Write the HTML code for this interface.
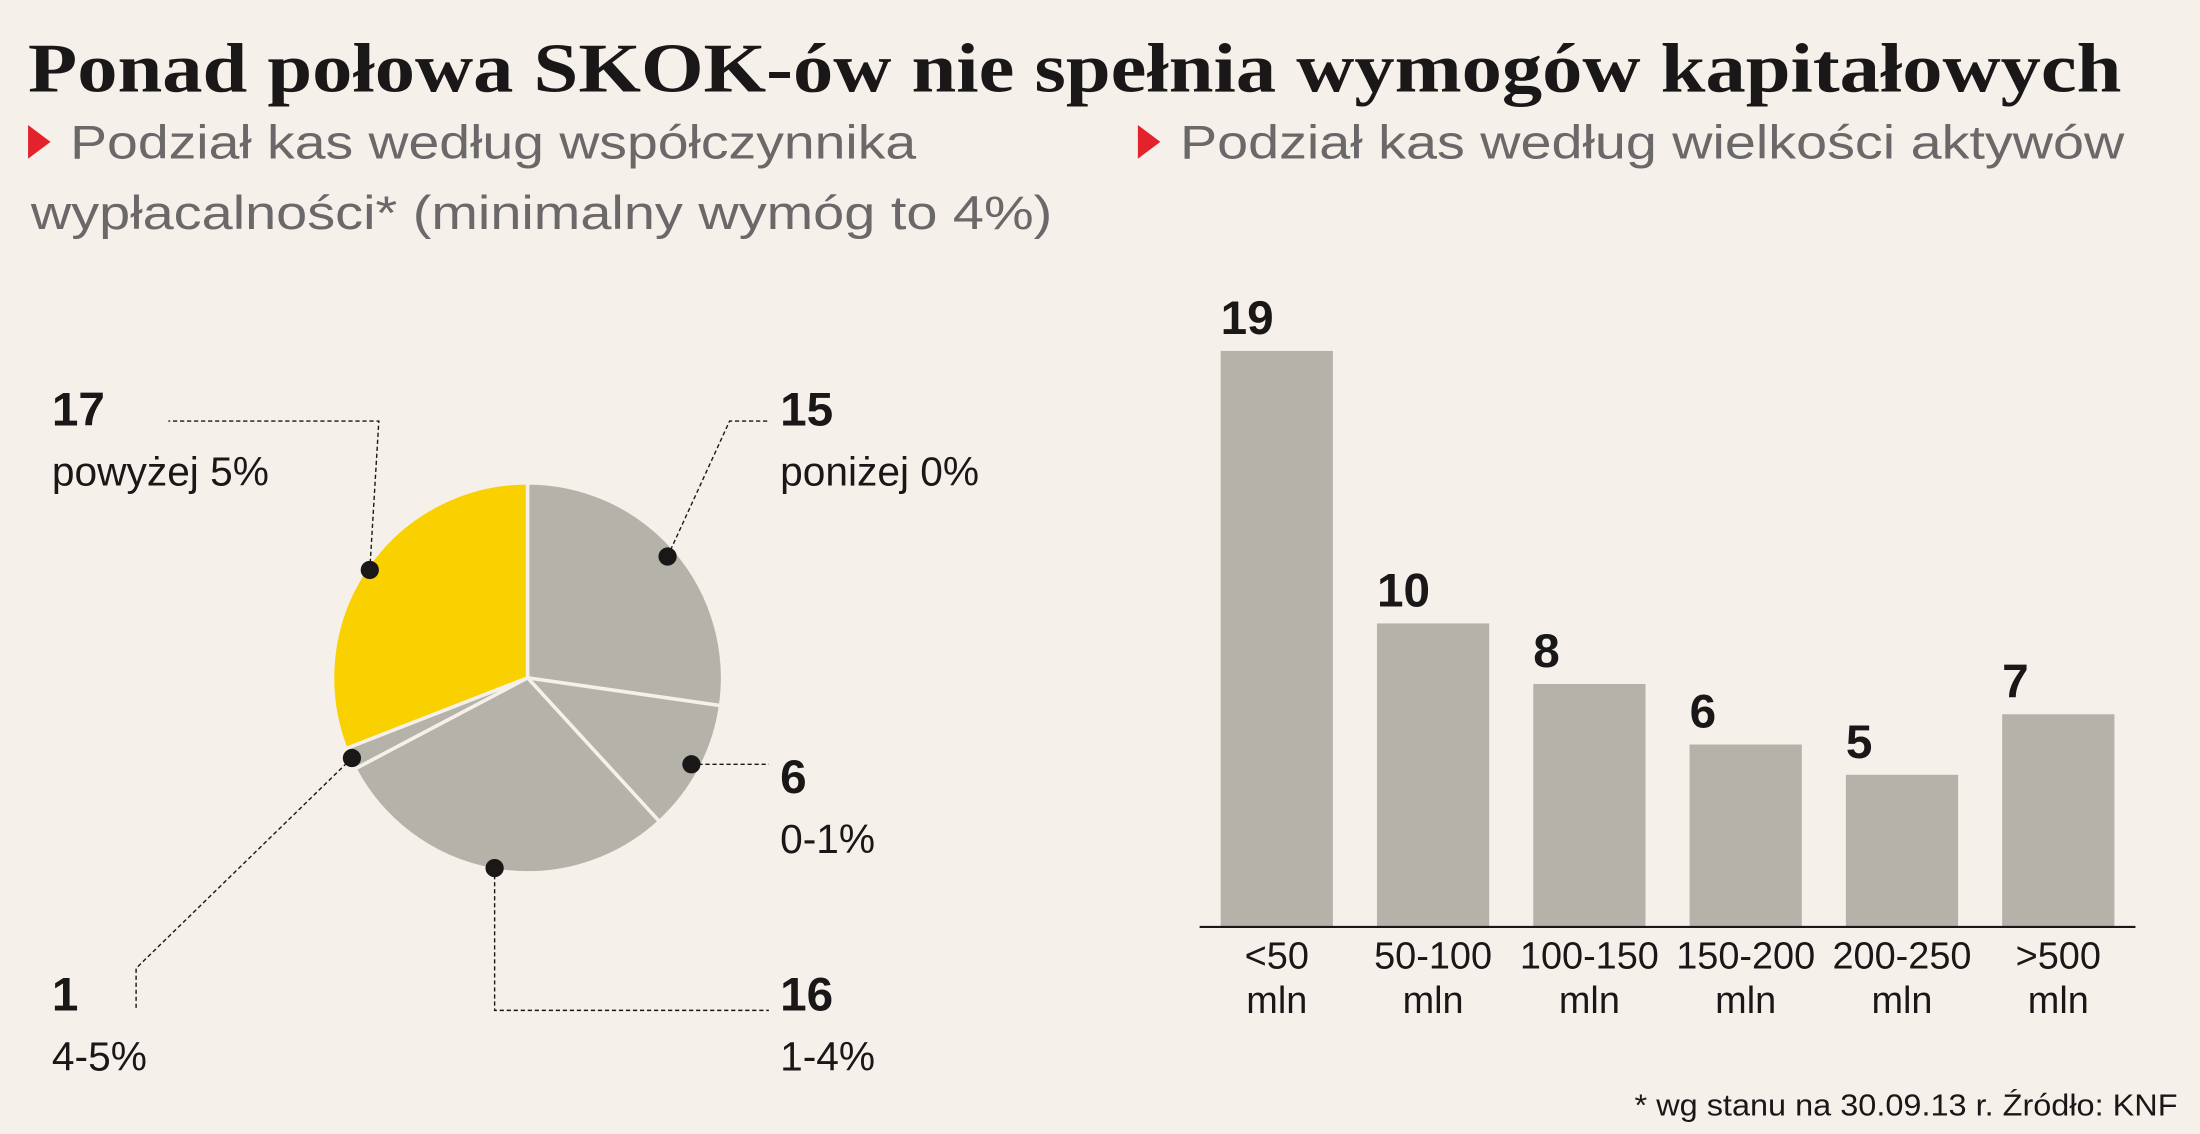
<!DOCTYPE html>
<html><head><meta charset="utf-8"><style>
html,body{margin:0;padding:0;background:#f5f1ea;}
svg{display:block;}
</style></head><body>
<svg id="chart" width="2200" height="1134" viewBox="0 0 1568 808" xmlns="http://www.w3.org/2000/svg">
<rect width="1568" height="808" fill="#f5f1ea"/>
<text x="20" y="65" font-family="Liberation Serif, serif" font-weight="bold" font-size="50" fill="#1a1718" textLength="1492" lengthAdjust="spacingAndGlyphs">Ponad połowa SKOK-ów nie spełnia wymogów kapitałowych</text>
<polygon points="20,89 36,101 20,113" fill="#e3222b"/>
<text x="50" y="113" font-family="Liberation Sans, sans-serif" font-size="34" fill="#6a6869" textLength="603" lengthAdjust="spacingAndGlyphs">Podział kas według współczynnika</text>
<text x="22" y="163" font-family="Liberation Sans, sans-serif" font-size="34" fill="#6a6869" textLength="728" lengthAdjust="spacingAndGlyphs">wypłacalności* (minimalny wymóg to 4%)</text>
<polygon points="811,89 827,101 811,113" fill="#e3222b"/>
<text x="841" y="113" font-family="Liberation Sans, sans-serif" font-size="34" fill="#6a6869" textLength="673" lengthAdjust="spacingAndGlyphs">Podział kas według wielkości aktywów</text>
<g id="pie"></g>
<g id="bars"></g>
<text x="1552" y="795" text-anchor="end" font-family="Liberation Sans, sans-serif" font-size="22" fill="#1a1718" textLength="387" lengthAdjust="spacingAndGlyphs">* wg stanu na 30.09.13 r. Źródło: KNF</text>
</svg>
<script>
const NS='http://www.w3.org/2000/svg';
// pie data (clockwise from top)
const pieLabels=['poniżej 0%','0-1%','1-4%','4-5%','powyżej 5%'];
const pieValues=[15,6,16,1,17];
const pieColors=['#b5b2aa','#b5b2aa','#b5b2aa','#b5b2aa','#f9d000'];
// bar data
const barCategories=['<50','50-100','100-150','150-200','200-250','>500'];
const barValues=[19,10,8,6,5,7];

function mk(tag,attrs,parent){const e=document.createElementNS(NS,tag);for(const k in attrs)e.setAttribute(k,attrs[k]);parent.appendChild(e);return e;}

// ---- pie ----
const pie=document.getElementById('pie');
const cx=376,cy=483,r=139;
const total=pieValues.reduce((a,b)=>a+b,0);
function pt(ang,rad){return [cx+rad*Math.sin(ang),cy-rad*Math.cos(ang)];}
let acc=0;const mids=[];
pieValues.forEach((v,i)=>{
  const a0=acc/total*2*Math.PI;acc+=v;const a1=acc/total*2*Math.PI;
  const p0=pt(a0,r),p1=pt(a1,r);const large=(a1-a0)>Math.PI?1:0;
  const p=mk('path',{d:`M${cx},${cy} L${p0[0]},${p0[1]} A${r},${r} 0 ${large} 1 ${p1[0]},${p1[1]} Z`,fill:pieColors[i],stroke:'#f5f1ea','stroke-width':2.5},pie);
  
  
  mids.push((a0+a1)/2);
});
// label layout: [number x, number y, leader route]
const labelPos=[[556,303],[556,565],[556,720],[37,720],[37,303]];
const dotR=[0.95,0.95,0.99,0.99,0.98];
const dots=mids.map((m,i)=>{const d=pt(m,r*dotR[i]);return d;});
const routes=[
  d=>[[d[0],d[1]],[520,300],[548,300]],
  d=>[[d[0],d[1]],[548,d[1]]],
  d=>[[d[0],d[1]],[d[0],720],[548,720]],
  d=>[[d[0],d[1]],[97,690],[97,720]],
  d=>[[d[0],d[1]],[270,300],[120,300]]
];
pieValues.forEach((v,i)=>{
  const d=dots[i];
  const pl=mk('polyline',{points:routes[i](d).map(q=>q.join(',')).join(' '),fill:'none',stroke:'#1a1718','stroke-width':1,'stroke-dasharray':'3,2'},pie);
  
  
  const c=mk('circle',{cx:d[0],cy:d[1],r:6.5,fill:'#1a1718'},pie);
  
  
  const [lx,ly]=labelPos[i];
  const n=mk('text',{x:lx,y:ly,'font-family':'Liberation Sans, sans-serif','font-weight':'bold','font-size':34,fill:'#1a1718'},pie);
  n.textContent=v;
  
  
  const t=mk('text',{x:lx,y:ly+43,'font-family':'Liberation Sans, sans-serif','font-size':29,fill:'#1a1718'},pie);
  t.textContent=pieLabels[i];
  
  
});

// ---- bars ----
const bars=document.getElementById('bars');
const baseY=660,unit=410/19,x0=870,step=111.4,bw=80;
const yS=v=>baseY-v*unit;const xS=i=>x0+i*step;
barValues.forEach((v,i)=>{
  const b=mk('rect',{x:xS(i),y:yS(v),width:bw,height:baseY-yS(v),fill:'#b5b2aa'},bars);
  
  
  const t=mk('text',{x:xS(i),y:yS(v)-12,'font-family':'Liberation Sans, sans-serif','font-weight':'bold','font-size':34,fill:'#1a1718'},bars);
  t.textContent=v;
  
  
  const c1=mk('text',{x:xS(i)+bw/2,y:690,'text-anchor':'middle','font-family':'Liberation Sans, sans-serif','font-size':27,fill:'#1a1718'},bars);
  c1.textContent=barCategories[i];
  
  
  const c2=mk('text',{x:xS(i)+bw/2,y:722,'text-anchor':'middle','font-family':'Liberation Sans, sans-serif','font-size':27,fill:'#1a1718'},bars);
  c2.textContent='mln';
  
  
});
const ax=mk('line',{x1:855,x2:1522,y1:baseY+0.5,y2:baseY+0.5,stroke:'#1a1718','stroke-width':1.5},bars);


</script>
</body></html>
